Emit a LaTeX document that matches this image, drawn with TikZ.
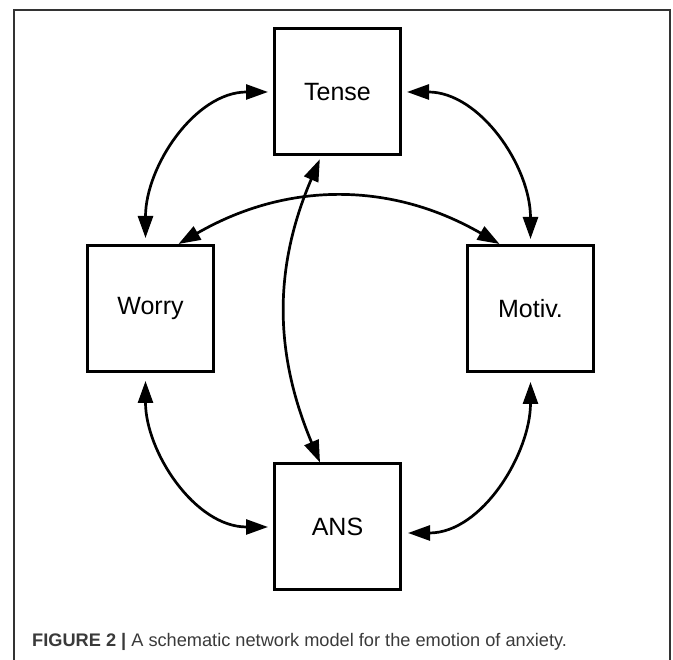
\documentclass[tikz,border=0pt]{standalone}
\usepackage{fontspec}
\setmainfont{Liberation Sans}
\usetikzlibrary{arrows.meta}
\definecolor{capgray}{HTML}{3A3A3A}
\begin{document}
\begin{tikzpicture}[x=1pt, y=1pt,
		box/.style={draw, line width=3pt, minimum size=126pt, inner sep=0pt, font=\fontsize{25}{28}\selectfont},
		link/.style={{Triangle[length=22pt, width=15pt]}-{Triangle[length=22pt, width=15pt]}, line width=2.7pt}]
		\useasboundingbox (0,0) rectangle (673,660);
		% Rahmen der Abbildung
		\draw[black!80, line width=1.2pt] (14,0) -- (14,650) -- (670,650) -- (670,0);
		
		% Knoten
		\node[box] (tense) at (337.5, 568) {Tense};
		\node[box] (worry) at (150.5, 351.5) {Worry};
		\node[box] (motiv) at (530.5, 351.5) {Motiv.};
		\node[box] (ans) at (337.5, 133) {ANS};
		
		% Verbindungen aussen
		\draw[link, shorten <=5pt, shorten >=6pt] (tense.west) to[out=180, in=90] ([xshift=-5pt]worry.north);
		\draw[link, shorten <=5pt, shorten >=5pt] (tense.east) to[out=0, in=90] (motiv.north);
		\draw[link, shorten <=8pt, shorten >=5pt] ([xshift=-5pt]worry.south) to[out=-90, in=180] (ans.west);
		\draw[link, shorten <=9pt, shorten >=6pt] (motiv.south) to[out=-90, in=0] ([yshift=-6pt]ans.east);
		
		% Verbindungen innen
		\draw[link] ([xshift=28pt]worry.north) to[bend left=30] ([xshift=-31pt]motiv.north);
		\draw[link, shorten >=3pt] ([xshift=-17.5pt]ans.north) to[bend left=23] ([xshift=-16.5pt]tense.south);
		
		% Bildunterschrift
		\node[anchor=base west, inner sep=0pt, text=capgray, font=\fontsize{18.2}{21}\selectfont] (caption) at (32, 13)
			{\textbf{FIGURE 2 |} A schematic network model for the emotion of anxiety.};
	\end{tikzpicture}
\end{document}
